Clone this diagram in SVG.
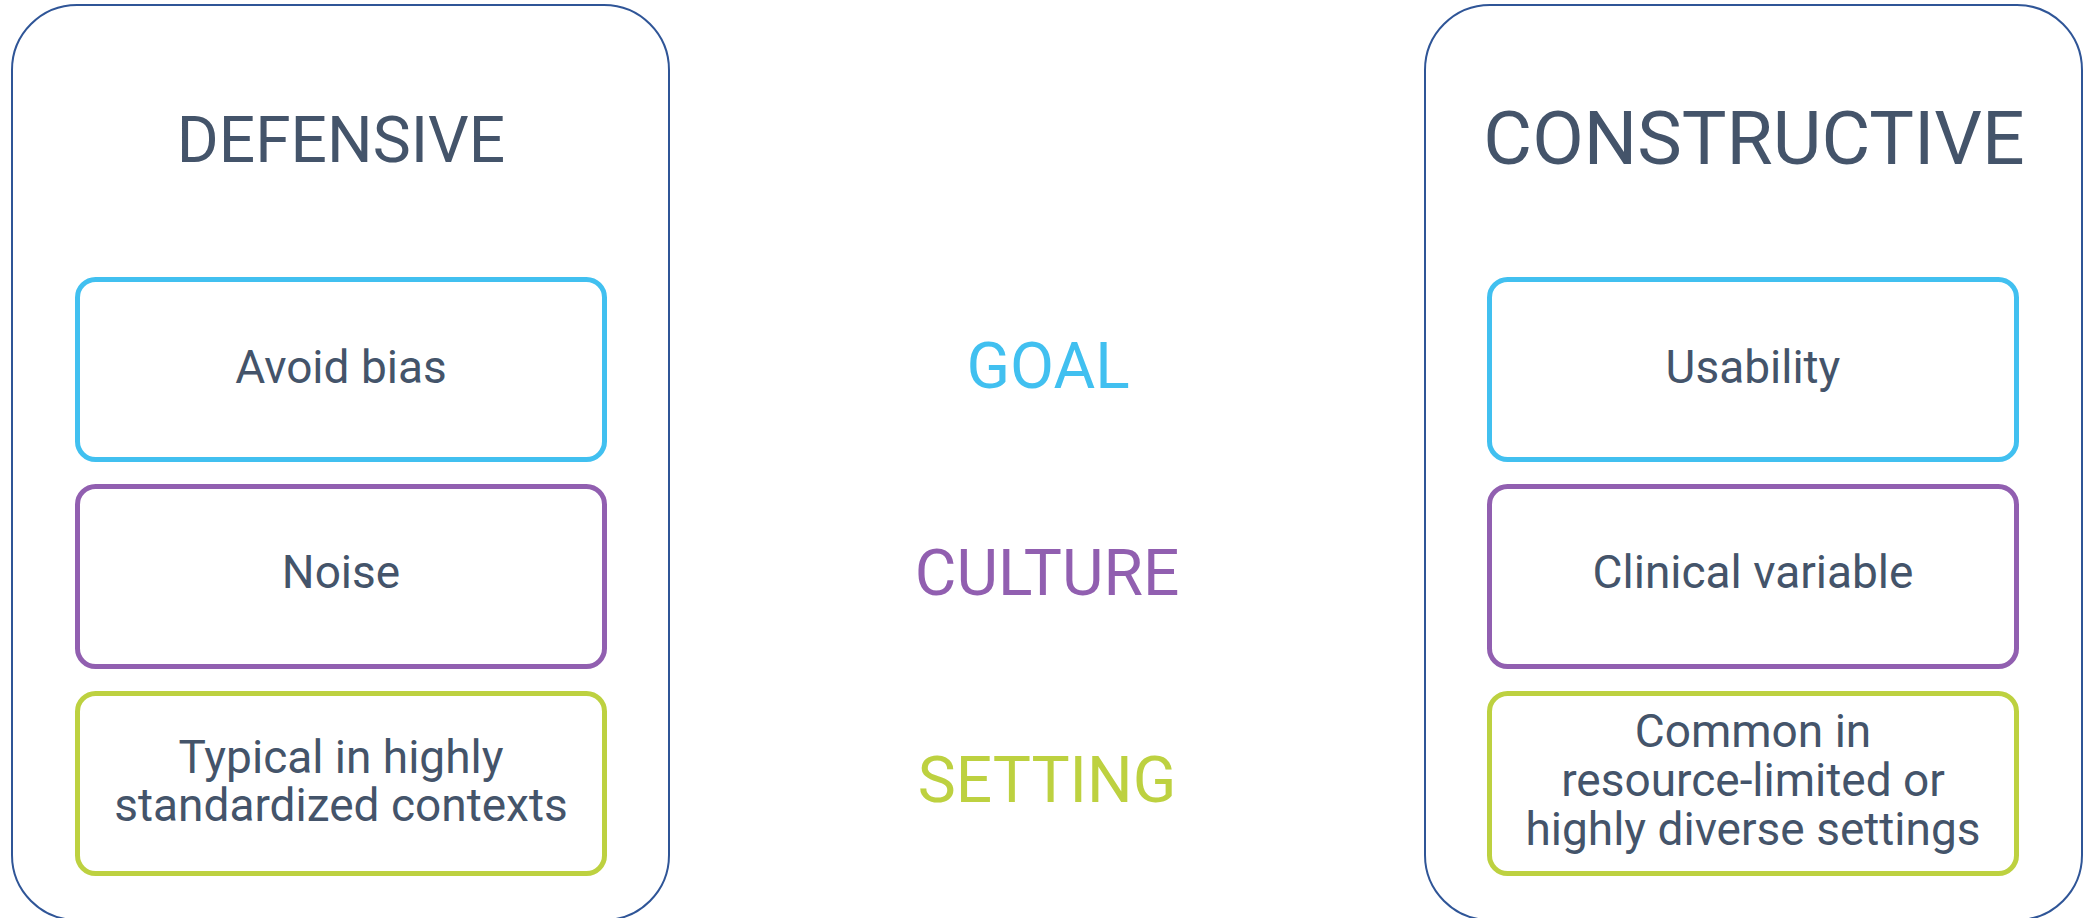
<svg xmlns="http://www.w3.org/2000/svg" width="2090" height="918" viewBox="0 0 2090 918">
<style>
.outer{fill:#FFFFFF;stroke:#2F5597;stroke-width:2}
.box{fill:#FFFFFF;stroke-width:5}
.b{stroke:#41C0F0}.p{stroke:#915FB0}.g{stroke:#BDD140}
.t{font-family:Roboto,"Liberation Sans",sans-serif;fill:#44546A;text-anchor:middle}
.h{font-size:64px}
.hc{font-size:75px}
.m{font-family:Roboto,"Liberation Sans",sans-serif;text-anchor:middle;font-size:64px}
.s{font-size:46px}
</style>
<rect width="2090" height="918" fill="#FFFFFF"/>
<g id="defensive">
<rect class="outer" x="12" y="5" width="657" height="915" rx="65" ry="65"/>
<text class="t h" x="341" y="162">DEFENSIVE</text>
</g>
<g id="constructive">
<rect class="outer" x="1425" y="5" width="657" height="915" rx="65" ry="65"/>
<text class="t hc" x="1754" y="164">CONSTRUCTIVE</text>
</g>
<g id="avoid-bias">
<rect class="box b" x="77.5" y="279.5" width="527" height="180" rx="18"/>
<text class="t s" x="341" y="383">Avoid bias</text>
</g>
<g id="noise">
<rect class="box p" x="77.5" y="486.5" width="527" height="180" rx="18"/>
<text class="t s" x="341" y="588">Noise</text>
</g>
<g id="typical">
<rect class="box g" x="77.5" y="693.5" width="527" height="180" rx="18"/>
<text class="t s" x="341" y="773">Typical in highly</text>
<text class="t s" x="341" y="821">standardized contexts</text>
</g>
<g id="usability">
<rect class="box b" x="1489.5" y="279.5" width="527" height="180" rx="18"/>
<text class="t s" x="1753" y="383">Usability</text>
</g>
<g id="clinical">
<rect class="box p" x="1489.5" y="486.5" width="527" height="180" rx="18"/>
<text class="t s" x="1753" y="588">Clinical variable</text>
</g>
<g id="common">
<rect class="box g" x="1489.5" y="693.5" width="527" height="180" rx="18"/>
<text class="t s" x="1753" y="747">Common in</text>
<text class="t s" x="1753" y="796">resource-limited or</text>
<text class="t s" x="1753" y="845">highly diverse settings</text>
</g>
<g id="goal"><text class="m" x="1048" y="388" fill="#41C0F0">GOAL</text></g>
<g id="culture"><text class="m" x="1047" y="595" fill="#915FB0">CULTURE</text></g>
<g id="setting"><text class="m" x="1047" y="802" fill="#BDD140">SETTING</text></g>
<g id="connectors"></g>
</svg>
